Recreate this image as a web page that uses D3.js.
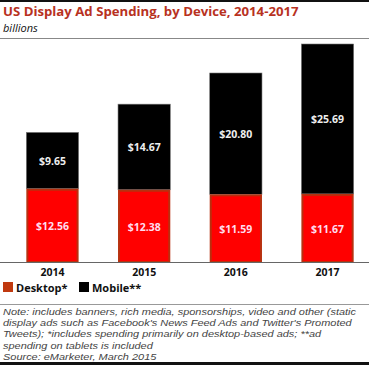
<!DOCTYPE html>
<html><head><meta charset="utf-8">
<script src="https://cdn.jsdelivr.net/npm/d3@7"></script>
<style>body{margin:0;background:#fff}svg{display:block}</style>
</head><body>
<script>
const years = ["2014","2015","2016","2017"];
const desktop = [12.56, 12.38, 11.59, 11.67];
const mobile = [9.65, 14.67, 20.80, 25.69];
const desktopLabels = ["$12.56","$12.38","$11.59","$11.67"];
const mobileLabels = ["$9.65","$14.67","$20.80","$25.69"];
const title = "US Display Ad Spending, by Device, 2014-2017";
const subtitle = "billions";
const noteLines = [
  "Note: includes banners, rich media, sponsorships, video and other (static",
  "display ads such as Facebook's News Feed Ads and Twitter's Promoted",
  "Tweets); *includes spending primarily on desktop-based ads; **ad",
  "spending on tablets is included",
  "Source: eMarketer, March 2015"
];

const W = 369, H = 369;
const svg = d3.select("body").append("svg").attr("width", W).attr("height", H);
const font = "'Open Sans', 'DejaVu Sans', sans-serif";
const noteFont = "'Liberation Sans', Arial, sans-serif";

// frame lines
svg.append("rect").attr("x",0).attr("y",0).attr("width",W).attr("height",2).attr("fill","#111");
svg.append("rect").attr("x",0).attr("y",362).attr("width",W).attr("height",3).attr("fill","#111");

svg.append("text").attr("x",3).attr("y",16).text(title)
  .attr("font-family",font).attr("font-weight","bold").attr("font-size",13.2).attr("fill","#b8321f");
svg.append("text").attr("x",3).attr("y",32).text(subtitle)
  .attr("font-family",font).attr("font-style","italic").attr("font-size",11).attr("fill","#111");
svg.append("line").attr("x1",0).attr("x2",W).attr("y1",38.5).attr("y2",38.5).attr("stroke","#888").attr("stroke-width",1);

const x = d3.scaleBand().domain(years).range([8, 372]).paddingInner(0.43).paddingOuter(0.2);
const y = d3.scaleLinear().domain([0, 37.36]).range([262, 44]);

const g = svg.append("g");
years.forEach((yr, i) => {
  const bx = x(yr), bw = x.bandwidth();
  const d = desktop[i], m = mobile[i];
  g.append("rect").attr("x",bx).attr("y",y(d+m)).attr("width",bw).attr("height",y(d)-y(d+m))
    .attr("fill","#000").attr("stroke","#777").attr("stroke-width",0.6);
  g.append("rect").attr("x",bx+1).attr("y",y(d)+1).attr("width",bw-2).attr("height",y(0)-y(d)-1)
    .attr("fill","#ff0000").attr("stroke","#b8300f").attr("stroke-width",2);
  g.append("text").attr("x",bx+bw/2).attr("y",(y(d+m)+y(d))/2+4).attr("text-anchor","middle")
    .text(mobileLabels[i]).attr("font-family",font).attr("font-weight","bold").attr("font-size",10.5).attr("fill","#eee");
  g.append("text").attr("x",bx+bw/2).attr("y",(y(d)+y(0))/2+5).attr("text-anchor","middle")
    .text(desktopLabels[i]).attr("font-family",font).attr("font-weight","bold").attr("font-size",10.5).attr("fill","#fde");
});

// axis
const ax = svg.append("g").attr("transform","translate(0,262)")
  .call(d3.axisBottom(x).tickSize(0).tickPadding(7));
ax.select(".domain").remove();
svg.append("line").attr("x1",0).attr("x2",W).attr("y1",262.5).attr("y2",262.5).attr("stroke","#666");
ax.selectAll("text").attr("font-family",font).attr("font-weight","bold").attr("font-size",10.5).attr("fill","#111");

// legend
const lg = svg.append("g").attr("transform","translate(3,282)");
lg.append("rect").attr("x",0).attr("y",0).attr("width",10).attr("height",10).attr("fill","#c0390f");
lg.append("text").attr("x",13).attr("y",9.5).text("Desktop*").attr("font-family",font).attr("font-weight","bold").attr("font-size",11).attr("fill","#111");
lg.append("rect").attr("x",76).attr("y",0).attr("width",10).attr("height",10).attr("fill","#000");
lg.append("text").attr("x",89).attr("y",9.5).text("Mobile**").attr("font-family",font).attr("font-weight","bold").attr("font-size",11).attr("fill","#111");

svg.append("line").attr("x1",0).attr("x2",W).attr("y1",304.5).attr("y2",304.5).attr("stroke","#999");

const notes = svg.append("g").selectAll("text").data(noteLines).join("text")
  .attr("x",3).attr("y",(d,i)=>315+i*11.2).text(d=>d)
  .attr("font-family",noteFont).attr("font-style","italic").attr("font-size",9.4).attr("fill","#444");
const w0 = notes.nodes()[0].getComputedTextLength();
const k = 353 / w0;
notes.each(function(){
  const w = this.getComputedTextLength();
  d3.select(this).attr("textLength", w*k).attr("lengthAdjust","spacingAndGlyphs");
});
</script>
</body></html>
